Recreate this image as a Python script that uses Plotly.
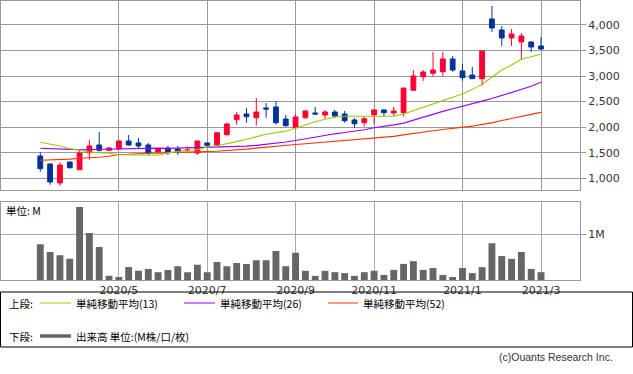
import plotly.graph_objects as go

W, H = 633, 374

# ---- data (weekly) ----
week_idx = list(range(52))
opens  = [1436,1280, 908,1319,1168,1501,1652,1548,1573,1730,1691,1652,1515,1593,1573,1560,1495,1691,1652,1853,
          2147,2258,2186,2376,2395,2160,1990,2186,2278,2239,2297,2258,2141,2088,2239,2337,2278,2284,2722,2988,
          3055,3086,3335,3100,3021,2949,4117,3902,3746,3667,3667,3589]
highs  = [1509,1290,1313,1325,1540,1750,1906,1612,1750,1847,1789,1691,1593,1632,1632,1620,1730,1700,1900,2083,
          2297,2376,2571,2473,2512,2239,2258,2337,2395,2337,2337,2317,2180,2205,2350,2356,2395,2767,3119,3119,
          3472,3472,3393,3237,3178,3491,4372,3980,3922,3843,3687,3765]
lows   = [1129, 875, 855,1188,1160,1364,1520,1540,1570,1640,1593,1456,1495,1456,1456,1520,1456,1620,1640,1834,
          2049,2088,2029,2186,2049,2010,1985,2167,2258,2167,2180,2088,1990,2010,2068,2219,2219,2206,2715,2904,
          2988,3002,3086,2910,2949,2812,3863,3589,3589,3315,3472,3510]
closes = [1188, 928,1260,1207,1495,1632,1548,1593,1730,1652,1632,1495,1573,1515,1515,1560,1730,1646,1892,2063,
          2239,2206,2297,2356,2088,2029,2200,2317,2258,2297,2219,2127,2068,2166,2337,2284,2317,2767,3002,3080,
          3119,3335,3119,2969,2949,3491,3941,3746,3824,3785,3569,3530]

ma13 = [1704,1671,1632,1580,1540,1515,1501,1489,1462,1462,1456,1450,1450,1495,1521,1554,1560,1612,1638,1671,
        1717,1763,1814,1861,1893,1920,1978,2049,2108,2155,2200,2213,2213,2213,2213,2213,2213,2258,2320,2390,
        2450,2520,2585,2649,2740,2840,2976,3119,3217,3329,3380,3427]
ma26 = [1587,1575,1570,1565,1560,1565,1570,1575,1580,1585,1585,1590,1590,1585,1590,1590,1595,1600,1600,1610,
        1620,1630,1645,1665,1685,1710,1740,1775,1815,1845,1870,1895,1920,1950,1990,2015,2045,2080,2140,2200,
        2260,2310,2360,2415,2460,2510,2560,2620,2680,2740,2800,2880]
ma52 = [1352,1355,1372,1375,1391,1395,1411,1430,1465,1470,1472,1489,1492,1505,1509,1512,1515,1525,1530,1545,
        1555,1570,1590,1610,1625,1640,1660,1675,1690,1705,1720,1735,1750,1765,1785,1800,1820,1850,1880,1905,
        1930,1955,1975,1995,2020,2055,2085,2130,2175,2210,2250,2290]

volume_m = [0.78,0.61,0.54,0.46,1.59,1.02,0.72,0.09,0.065,0.28,0.20,0.24,0.17,0.22,0.30,0.17,0.33,0.17,0.39,0.30,
            0.37,0.35,0.43,0.43,0.63,0.30,0.59,0.20,0.09,0.20,0.17,0.15,0.09,0.17,0.20,0.11,0.22,0.35,0.41,0.22,
            0.26,0.11,0.065,0.26,0.15,0.28,0.80,0.52,0.46,0.61,0.24,0.17]

month_tick_idx = [8, 17, 26, 34, 43, 51]
month_tick_text = ["2020/5", "2020/7", "2020/9", "2020/11", "2021/1", "2021/3"]
price_ticks = [1000, 1500, 2000, 2500, 3000, 3500, 4000]

RED = "#ff0033"
BLUE = "#003399"
GREEN = "#99cc00"
PURPLE = "#9900ff"
ORANGE = "#ff3300"
VOLC = "#666666"
GRID = "#999999"
TXT = "#333333"
FONT = "DejaVu Sans"
JFONT = "Noto Sans CJK JP"

def py(p):
    return 1 - p / H

def px(p):
    return p / W

x0, x1 = 0.5, 580
xr = [-(40.3 - x0) / 9.818, (x1 - 40.3) / 9.818]

fig = go.Figure()
fig.add_trace(go.Candlestick(
    x=week_idx, open=opens, high=highs, low=lows, close=closes,
    increasing=dict(line=dict(color=RED, width=1), fillcolor=RED),
    decreasing=dict(line=dict(color=BLUE, width=1), fillcolor=BLUE),
    whiskerwidth=0, xaxis="x", yaxis="y", showlegend=False))
for vals, col in [(ma52, ORANGE), (ma26, PURPLE), (ma13, GREEN)]:
    fig.add_trace(go.Scatter(x=week_idx, y=vals, mode="lines",
                             line=dict(color=col, width=1.1), xaxis="x", yaxis="y",
                             showlegend=False, hoverinfo="skip"))
fig.add_trace(go.Bar(x=week_idx, y=volume_m, marker=dict(color=VOLC, line=dict(width=0)),
                     width=0.7, xaxis="x2", yaxis="y2", showlegend=False))

axis_common = dict(showline=True, linecolor=GRID, linewidth=1, mirror=True,
                   showgrid=True, gridwidth=1, zeroline=False, fixedrange=True)

fig.update_layout(
    width=W, height=H, margin=dict(l=0, r=0, t=0, b=0),
    paper_bgcolor="white", plot_bgcolor="white", showlegend=False,
    boxgap=0.3,
    font=dict(family=FONT, size=11, color=TXT),
    xaxis=dict(domain=[px(x0), px(x1)], range=xr, anchor="y",
               tickvals=month_tick_idx, showticklabels=False, ticks="",
               gridcolor=GRID, rangeslider=dict(visible=False), **axis_common),
    yaxis=dict(domain=[py(190), py(0.5)], range=[771, 4479], anchor="x", side="right",
               tickvals=price_ticks, tickformat=",d", ticks="outside", ticklen=5,
               tickcolor=GRID, gridcolor=GRID, tickfont=dict(size=11, family=FONT, color=TXT),
               **axis_common),
    xaxis2=dict(domain=[px(x0), px(x1)], range=xr, anchor="y2",
                tickvals=month_tick_idx, ticktext=month_tick_text, ticks="",
                tickfont=dict(size=11, family=FONT, color=TXT),
                gridcolor="#aaaaaa", **axis_common),
    yaxis2=dict(domain=[py(280), py(202)], range=[0, 1.696], anchor="x2", side="right",
                tickvals=[1], ticktext=["1M"], ticks="outside", ticklen=5, tickcolor=GRID,
                gridcolor="#aaaaaa", tickfont=dict(size=11, family=FONT, color=TXT),
                **axis_common),
)

shapes = [
    dict(type="rect", xref="paper", yref="paper", x0=px(0.5), x1=px(632.5),
         y0=py(347), y1=py(292), line=dict(color="#000000", width=1)),
]
legend_lines = [(40, 71, 303, GREEN, 1), (184, 215, 303, PURPLE, 1), (328, 358, 303, ORANGE, 1),
                (40, 71, 336, VOLC, 3.5)]
for a, b, yy, col, w in legend_lines:
    shapes.append(dict(type="line", xref="paper", yref="paper", x0=px(a), x1=px(b),
                       y0=py(yy), y1=py(yy), line=dict(color=col, width=w)))
fig.update_layout(shapes=shapes)

def ann(text, x, y, anchor="left", size=11, fam=JFONT, color="#000000"):
    fig.add_annotation(text=text, xref="paper", yref="paper", x=px(x), y=py(y),
                       xanchor=anchor, yanchor="middle", showarrow=False,
                       font=dict(size=size, family=fam, color=color))

ann("上段:", 7, 303, size=10.5)
ann("単純移動平均(13)", 74, 303, size=10.5)
ann("単純移動平均(26)", 218, 303, size=10.5)
ann("単純移動平均(52)", 361, 303, size=10.5)
ann("下段:", 7, 336, size=10.5)
ann("出来高 単位:(M株/口/枚)", 74, 336, size=10.5)
ann("単位: M", 4, 210, size=10.5)
ann("(c)Ouants Research Inc.", 615, 357, anchor="right", size=10.5, fam="Liberation Sans", color="#333333")

fig.write_html("out.html", config={"displayModeBar": False, "staticPlot": True},
               post_script="document.body.style.margin='0';document.body.style.padding='0';document.body.style.overflow='hidden';")
